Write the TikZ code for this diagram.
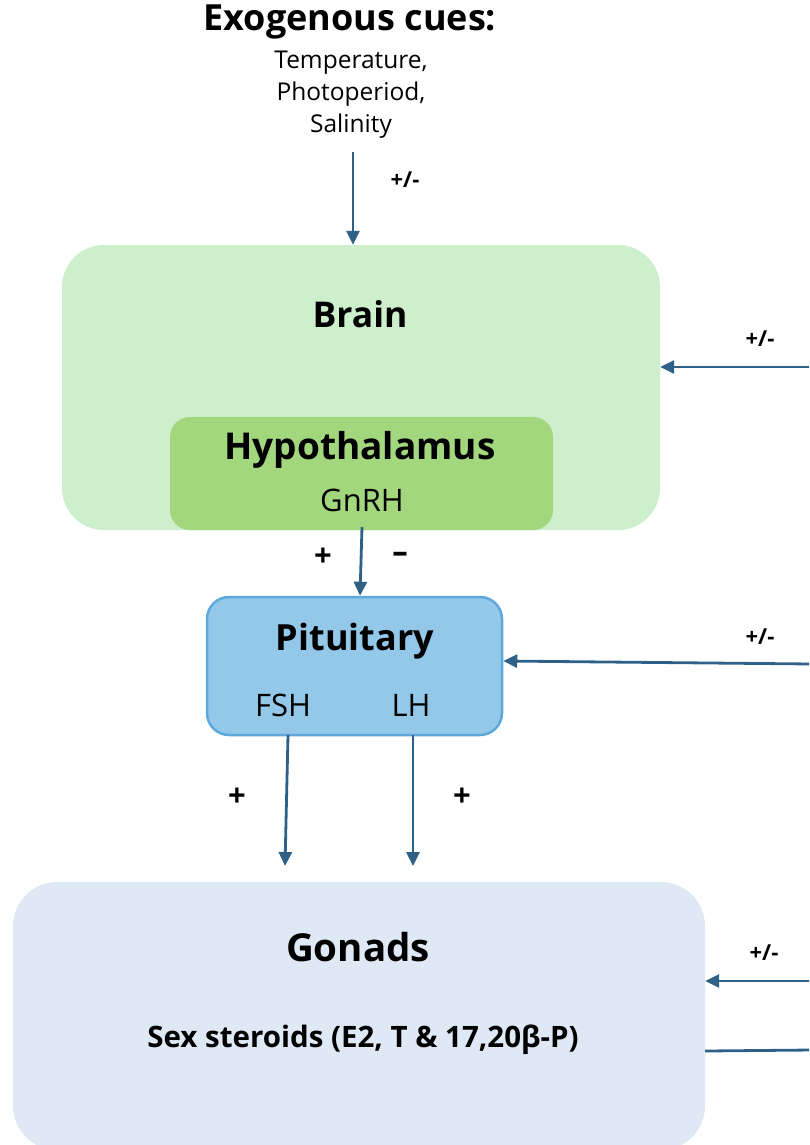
\documentclass[tikz,border=0pt]{standalone}
\usepackage{fontspec}
\setmainfont{Open Sans}
\usetikzlibrary{arrows.meta}
\definecolor{brainfill}{RGB}{205,239,204}
\definecolor{hypofill}{RGB}{162,215,126}
\definecolor{pitfill}{RGB}{147,200,232}
\definecolor{pitdraw}{RGB}{93,169,221}
\definecolor{gonfill}{RGB}{223,232,245}
\definecolor{arrowcol}{RGB}{47,96,136}
\newcommand{\fsz}[1]{\fontsize{#1}{#1}\selectfont}
\tikzset{
  box/.style={rectangle, inner sep=0pt, draw=none},
  head/.style={font=\bfseries, inner sep=0pt},
  sub/.style={font=\fsz{31}, inner sep=0pt},
  cue/.style={font=\fontsize{24.5}{32}\selectfont, inner sep=0pt, align=center},
  sign/.style={font=\fontsize{22}{24}\selectfont\bfseries, inner sep=0pt},
  bigsign/.style={font=\fontsize{31}{32}\selectfont\bfseries, inner sep=0pt},
  conn/.style={draw=arrowcol, line width=2.8pt, -{Triangle[length=14pt,width=13pt]}},
  plainconn/.style={draw=arrowcol, line width=2.8pt}
}
\begin{document}
\begin{tikzpicture}[x=1pt,y=-1pt]
\useasboundingbox (0,0) rectangle (809,1145);
\clip (0,0) rectangle (809,1145);
% boxes
\node[box, fill=brainfill, rounded corners=42pt, minimum width=598pt, minimum height=285pt] (brain) at (361,387.5) {};
\node[box, fill=hypofill, rounded corners=20pt, minimum width=383pt, minimum height=113pt] (hypo) at (361.5,473.5) {};
\node[box, fill=pitfill, draw=pitdraw, line width=2.5pt, rounded corners=22pt, minimum width=295pt, minimum height=138pt] (pit) at (354.5,666) {};
\node[box, fill=gonfill, rounded corners=44pt, minimum width=692pt, minimum height=268pt] (gon) at (359,1016) {};
% texts
\node[head, font=\fsz{36}\bfseries] (exo) at (350,22) {Exogenous cues:};
\node[cue] (cues) at (351,95) {Temperature,\\Photoperiod,\\Salinity};
\node[head, font=\fsz{35.5}\bfseries] (braint) at (360,314) {Brain};
\node[head, font=\fsz{37}\bfseries] (hypot) at (360,450) {Hypothalamus};
\node[sub] (gnrh) at (362,500) {GnRH};
\node[head, font=\fsz{36}\bfseries] (pitt) at (355,641) {Pituitary};
\node[sub] (fsh) at (283,705) {FSH};
\node[sub] (lh) at (411,705) {LH};
\node[head, font=\fsz{38.5}\bfseries] (gont) at (358,947) {Gonads};
\node[head, font=\fsz{29.5}\bfseries] (ster) at (363,1040) {Sex steroids (E2, T \& 17,20β-P)};
% signs
\node[sign] (s1) at (405,180) {+/-};
\node[sign] (s2) at (760,339) {+/-};
\node[bigsign] (s3) at (323,557) {+};
\node[bigsign] (s4) at (400,557) {\scalebox{1.6}[1]{-}};
\node[sign] (s5) at (760,637) {+/-};
\node[bigsign] (s6) at (237,797) {+};
\node[bigsign] (s7) at (462,797) {+};
\node[sign] (s8) at (764,953) {+/-};
% free ends
\coordinate (c0) at (353,152);
\coordinate (r1) at (812,367);
\coordinate (r2) at (812,664);
\coordinate (r3) at (812,981);
\coordinate (r4) at (812,1050);
\coordinate (g1) at (362,527);
\coordinate (f1) at (288,735);
\coordinate (l1) at (413,735);
\coordinate (f2) at (285,866);
\coordinate (l2) at (413,866);
% connectors
\draw[conn] (c0) -- (c0 |- brain.north);
\draw[conn] (r1) -- (r1 -| brain.east);
\draw[conn] (g1) -- (pit.north -| 360,0);
\draw[conn] (r2) -- (pit.east |- 0,661);
\draw[conn] (f1) -- (f2);
\draw[conn] (l1) -- (l2);
\draw[conn] (r3) -- (r3 -| gon.east);
\draw[plainconn] (gon.east |- 0,1051) -- (r4);
\end{tikzpicture}
\end{document}
